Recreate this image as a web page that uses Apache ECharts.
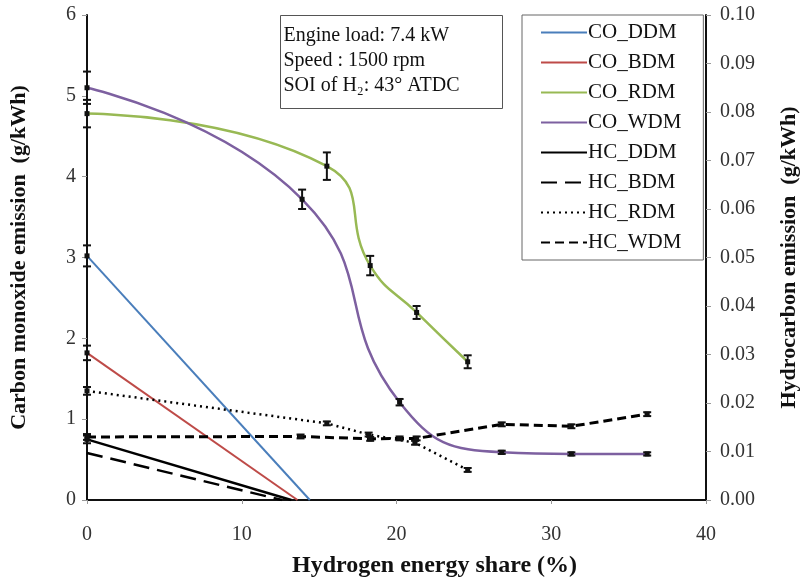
<html>
<head>
<meta charset="utf-8">
<script src="https://cdn.jsdelivr.net/npm/echarts@6/dist/echarts.min.js"></script>
</head>
<body style="margin:0">
<div id="main" style="width:808px;height:583px"></div>
<script>
var chart = echarts.init(document.getElementById('main'));

// [hydrogen share %, value]
var coDDM = [[0, 3.02], [14.4, 0]];
var coBDM = [[0, 1.82], [13.6, 0]];
var coRDM = [[0, 4.78], [15.5, 4.13], [18.3, 2.9], [21.3, 2.32], [24.6, 1.71]];
var coWDM = [[0, 5.1], [13.9, 3.72], [20.2, 1.21], [26.8, 0.59], [31.3, 0.57], [36.2, 0.57]];
var hcDDM = [[0, 0.0125], [13.2, 0]];
var hcBDM = [[0, 0.0097], [12.6, 0]];
var hcRDM = [[0, 0.0225], [15.5, 0.0158], [18.2, 0.0135], [21.2, 0.0118], [24.6, 0.0062]];
var hcWDM = [[0, 0.013], [13.8, 0.0131], [18.3, 0.0126], [20.2, 0.0127], [21.3, 0.0127], [26.8, 0.0156], [31.3, 0.0152], [36.2, 0.0177]];

// error bar half-widths per point
var coDDMErr = [0.13, 0];
var coBDMErr = [0.09, 0];
var coRDMErr = [0.17, 0.17, 0.12, 0.08, 0.08];
var coWDMErr = [0.2, 0.12, 0.04, 0.02, 0.02, 0.02];
var hcDDMErr = [0.0008, 0];
var hcRDMErr = [0.0008, 0.0004, 0.0004, 0.0004, 0.0004];
var hcWDMErr = [0.0006, 0.0004, 0.0004, 0.0004, 0.0004, 0.0004, 0.0004, 0.0004];

var serif = 'Liberation Serif';

function errBars(data, err, axis) {
    return {
        type: 'custom',
        yAxisIndex: axis,
        z: 5,
        data: data.map(function (d, i) { return [d[0], d[1], err[i]]; }),
        renderItem: function (params, api) {
            var x = api.value(0), y = api.value(1), e = api.value(2);
            if (!e) return;
            var top = api.coord([x, y + e]);
            var bot = api.coord([x, y - e]);
            var s = { stroke: '#111', lineWidth: 2 };
            return {
                type: 'group',
                children: [
                    { type: 'line', shape: { x1: top[0], y1: top[1], x2: bot[0], y2: bot[1] }, style: s },
                    { type: 'line', shape: { x1: top[0] - 4, y1: top[1], x2: top[0] + 4, y2: top[1] }, style: s },
                    { type: 'line', shape: { x1: bot[0] - 4, y1: bot[1], x2: bot[0] + 4, y2: bot[1] }, style: s },
                    { type: 'rect', shape: { x: top[0] - 2.5, y: (top[1] + bot[1]) / 2 - 2.5, width: 5, height: 5 }, style: { fill: '#111' } }
                ]
            };
        }
    };
}

function line(name, data, color, axis, type, width, smooth) {
    return {
        name: name,
        type: 'line',
        yAxisIndex: axis,
        data: data,
        smooth: smooth || false,
        showSymbol: false,
        symbol: 'none',
        lineStyle: { color: color, width: width, type: type },
        itemStyle: { color: color }
    };
}

chart.setOption({
    animation: false,
    grid: { left: 87, right: 94, top: 15, bottom: 80 },
    legend: {
        orient: 'vertical',
        left: 522,
        top: 15,
        width: 181,
        itemWidth: 46,
        itemHeight: 14,
        itemGap: 9,
        padding: [7, 22, 7, 18],
        borderColor: '#666',
        borderWidth: 1,
        backgroundColor: '#fff',
        itemStyle: { opacity: 0 },
        textStyle: { fontFamily: serif, fontSize: 21, color: '#111', padding: [0, 0, 0, -4] },
        data: ['CO_DDM', 'CO_BDM', 'CO_RDM', 'CO_WDM', 'HC_DDM', 'HC_BDM', 'HC_RDM', 'HC_WDM']
    },
    graphic: [{
        type: 'group',
        left: 280,
        top: 15,
        children: [
            { type: 'rect', shape: { x: 0, y: 0, width: 222, height: 93 }, style: { fill: '#fff', stroke: '#555', lineWidth: 1 } },
            { type: 'text', x: 3, y: 10, style: { text: 'Engine load: 7.4 kW', font: '20px "Liberation Serif"', fill: '#111' } },
            { type: 'text', x: 3, y: 35, style: { text: 'Speed : 1500 rpm', font: '20px "Liberation Serif"', fill: '#111' } },
            { type: 'text', x: 3, y: 60, style: { text: 'SOI of H₂: 43° ATDC', font: '20px "Liberation Serif"', fill: '#111' } }
        ]
    }],
    xAxis: {
        type: 'value',
        min: 0, max: 40, interval: 10,
        name: 'Hydrogen energy share (%)',
        nameLocation: 'middle',
        nameGap: 54,
        nameTextStyle: { fontFamily: serif, fontSize: 24, fontWeight: 'bold', color: '#111', padding: [0, 0, 0, 76] },
        axisLine: { lineStyle: { color: '#111', width: 2 } },
        axisTick: { inside: false, length: 4, lineStyle: { color: '#999' } },
        axisLabel: { fontFamily: serif, fontSize: 20, color: '#333', margin: 25 },
        splitLine: { show: false }
    },
    yAxis: [{
        type: 'value',
        min: 0, max: 6, interval: 1,
        name: 'Carbon monoxide emission  (g/kWh)',
        nameLocation: 'middle',
        nameGap: 57,
        nameTextStyle: { fontFamily: serif, fontSize: 22, fontWeight: 'bold', color: '#111' },
        axisLine: { show: true, lineStyle: { color: '#111', width: 2 } },
        axisTick: { show: true, length: 5, lineStyle: { color: '#999' } },
        axisLabel: { fontFamily: serif, fontSize: 20, color: '#333', margin: 11 },
        splitLine: { show: false }
    }, {
        type: 'value',
        min: 0, max: 0.1, interval: 0.01,
        name: 'Hydrocarbon emission  (g/kWh)',
        nameLocation: 'middle',
        nameGap: 72,
        nameRotate: 90,
        nameTextStyle: { fontFamily: serif, fontSize: 22, fontWeight: 'bold', color: '#111' },
        axisLine: { show: true, lineStyle: { color: '#111', width: 2 } },
        axisTick: { show: true, length: 5, lineStyle: { color: '#999' } },
        axisLabel: { fontFamily: serif, fontSize: 20, color: '#333', margin: 14, formatter: function (v) { return v.toFixed(2); } },
        splitLine: { show: false }
    }],
    series: [
        line('CO_DDM', coDDM, '#4a7ebb', 0, 'solid', 2),
        line('CO_BDM', coBDM, '#be4b48', 0, 'solid', 2),
        line('CO_RDM', coRDM, '#98b954', 0, 'solid', 2.5, 0.5),
        line('CO_WDM', coWDM, '#7d60a0', 0, 'solid', 2.5, 0.5),
        line('HC_DDM', hcDDM, '#000', 1, 'solid', 2.5),
        line('HC_BDM', hcBDM, '#000', 1, [16, 8], 2.5),
        line('HC_RDM', hcRDM, '#000', 1, [2, 4], 2.5),
        line('HC_WDM', hcWDM, '#000', 1, [9, 5], 3),
        errBars(coDDM, coDDMErr, 0),
        errBars(coBDM, coBDMErr, 0),
        errBars(coRDM, coRDMErr, 0),
        errBars(coWDM, coWDMErr, 0),
        errBars(hcDDM, hcDDMErr, 1),
        errBars(hcRDM, hcRDMErr, 1),
        errBars(hcWDM, hcWDMErr, 1)
    ]
});

window.onresize = chart.resize;
</script>
</body>
</html>
